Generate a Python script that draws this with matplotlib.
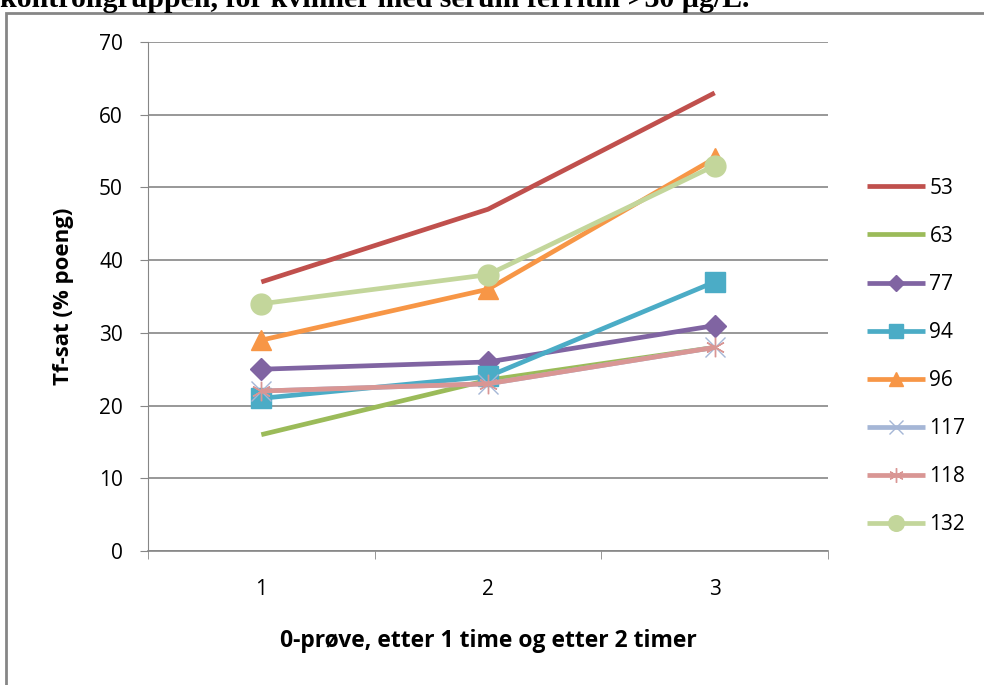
import matplotlib.pyplot as plt
from matplotlib.patches import Rectangle

# Data
prover = [1, 2, 3]
serier = ['53', '63', '77', '94', '96', '117', '118', '132']
verdier = {
    '53':  [37, 47, 63],
    '63':  [16, 23.5, 28],
    '77':  [25, 26, 31],
    '94':  [21, 24, 37],
    '96':  [29, 36, 54],
    '117': [22, 23, 28],
    '118': [22, 23, 28],
    '132': [34, 38, 53],
}
farger = {
    '53': '#C0504D', '63': '#9BBB59', '77': '#8064A2', '94': '#4BACC6',
    '96': '#F79646', '117': '#A5B6D6', '118': '#D99694', '132': '#C3D69B',
}
markorer = {
    '53': None, '63': None, '77': 'D', '94': 's',
    '96': '^', '117': 'x', '118': (6, 2, 0), '132': 'o',
}
storrelse = {'77': 11, '94': 14, '96': 14, '117': 14, '118': 14, '132': 15}

plt.rcParams['font.family'] = ['Open Sans', 'DejaVu Sans']

fig = plt.figure(figsize=(9.84, 6.85), dpi=100)
ax = fig.add_axes([0.1504, 0.1956, 0.6911, 0.7431])

for s in serier:
    m = markorer[s]
    kw = dict(color=farger[s], lw=3.4, label=s, solid_capstyle='butt')
    if m is not None:
        kw.update(marker=m, markersize=storrelse[s], markeredgecolor=farger[s])
        if s in ('117', '118'):
            kw.update(markeredgewidth=1)
    ax.plot(prover, verdier[s], **kw)

ax.set_xlim(0.5, 3.5)
ax.set_ylim(0, 70)
ax.set_yticks(range(0, 71, 10))
ax.set_xticks(prover)
ax.set_xticks([0.5, 1.5, 2.5, 3.5], minor=True)
ax.tick_params(axis='x', which='major', length=0, pad=20, labelsize=15)
ax.tick_params(axis='x', which='minor', length=6, color='#868686', direction='out')
ax.tick_params(axis='y', length=6, color='#868686', labelsize=15, pad=12)
ax.yaxis.grid(True, color='#868686', lw=1.2)
ax.set_axisbelow(True)
for side in ['top', 'right']:
    ax.spines[side].set_visible(False)
ax.spines['left'].set_color('#868686')
ax.spines['bottom'].set_color('#868686')
ax.spines['bottom'].set_linewidth(1.2)

ax.set_ylabel('Tf-sat (% poeng)', fontsize=16, fontweight='bold', labelpad=18)
ax.set_xlabel('0-prøve, etter 1 time og etter 2 timer', fontsize=16.5,
              fontweight='bold', labelpad=21)

ax.legend(loc='upper left', bbox_to_anchor=(0.862, 0.768),
          bbox_transform=fig.transFigure, frameon=False, borderpad=0.4,
          fontsize=15, handlelength=2.8, labelspacing=1.3, markerscale=0.75,
          handletextpad=0.2)

# frame around the chart and the clipped caption above it
fig.patches.append(Rectangle((0.006, -0.05), 1.1, 0.05 + 0.981,
                             transform=fig.transFigure, fill=False,
                             edgecolor='#868686', lw=2, clip_on=False))
fig.text(0.0, 0.9898, 'kontrollgruppen, for kvinner med serum ferritin >30 µg/L.',
         family='Liberation Serif', fontweight='bold', fontsize=21.5,
         va='baseline', ha='left')

fig.savefig('out.png', dpi=100)
